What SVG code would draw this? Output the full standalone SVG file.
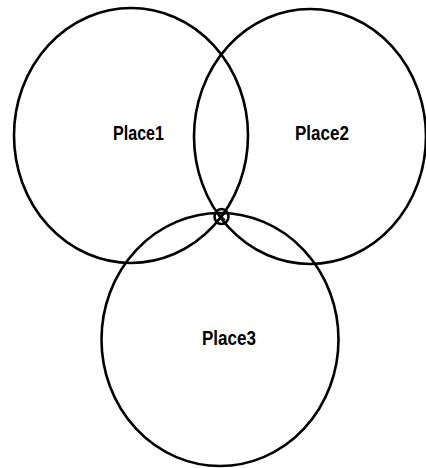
<svg xmlns="http://www.w3.org/2000/svg" width="426" height="468" viewBox="0 0 426 468">
<style>
.c{fill:none;stroke:#000;stroke-width:2.6}
.t{font-family:"Liberation Sans",Arial,sans-serif;font-weight:bold;font-size:20px;fill:#000}
</style>
<rect width="426" height="468" fill="#fff"/>
<g id="place1"><ellipse class="c" cx="131" cy="135.5" rx="117" ry="127.5"/><text class="t" x="113" y="140" textLength="51" lengthAdjust="spacingAndGlyphs">Place1</text></g>
<g id="place2"><ellipse class="c" cx="310" cy="136.5" rx="116" ry="127.5"/><text class="t" x="295" y="140" textLength="54" lengthAdjust="spacingAndGlyphs">Place2</text></g>
<g id="place3"><ellipse class="c" cx="220" cy="339.5" rx="118.5" ry="126.5"/><text class="t" x="202" y="345" textLength="54" lengthAdjust="spacingAndGlyphs">Place3</text></g>
<g id="connectors"><g id="junction"><ellipse class="c" cx="221.5" cy="216.5" rx="7" ry="7.5"/><path d="M218 213L225 220M225 213L218 220" stroke="#000" stroke-width="1.6"/></g></g>
</svg>
